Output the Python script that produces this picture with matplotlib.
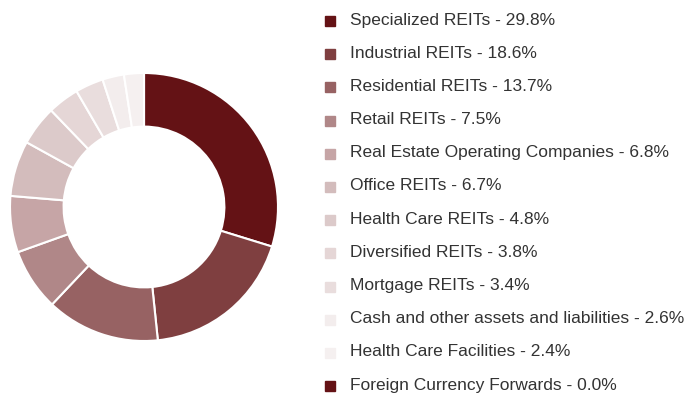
import matplotlib.pyplot as plt
from matplotlib.patches import Rectangle

labels = ['Specialized REITs', 'Industrial REITs', 'Residential REITs', 'Retail REITs',
          'Real Estate Operating Companies', 'Office REITs', 'Health Care REITs',
          'Diversified REITs', 'Mortgage REITs', 'Cash and other assets and liabilities',
          'Health Care Facilities', 'Foreign Currency Forwards']
weights = [29.8, 18.6, 13.7, 7.5, 6.8, 6.7, 4.8, 3.8, 3.4, 2.6, 2.4, 0.0]
colors = ['#641215', '#7f3f40', '#976263', '#b08788', '#c6a5a6', '#d3bcbc',
          '#dccaca', '#e5d6d6', '#e9dddd', '#f3eded', '#f5f0f0', '#641215']

W, H = 684, 397
fig = plt.figure(figsize=(W / 100, H / 100), dpi=100)

# donut
cx, cy, r = 144, 207, 134
ax = fig.add_axes([(cx - r) / W, (H - cy - r) / H, 2 * r / W, 2 * r / H])
ax.pie(weights, colors=colors, startangle=90, counterclock=False,
       wedgeprops=dict(width=0.4, edgecolor='white', linewidth=1.5))
ax.set_xlim(-1.0, 1.0)
ax.set_ylim(-1.0, 1.0)
ax.set_aspect('equal')
ax.axis('off')

# legend rows
y0, step = 20, 33.2
for i, (lab, w, c) in enumerate(zip(labels, weights, colors)):
    y = y0 + i * step
    fig.add_artist(Rectangle(((325) / W, (H - y - 6) / H), 10 / W, 10 / H,
                             transform=fig.transFigure, color=c))
    fig.text(350 / W, (H - y) / H, f'{lab} - {w:.1f}%', fontsize=12.5,
             family='Liberation Sans', color='#333333', va='center', ha='left')

fig.savefig('out.png', dpi=100)
